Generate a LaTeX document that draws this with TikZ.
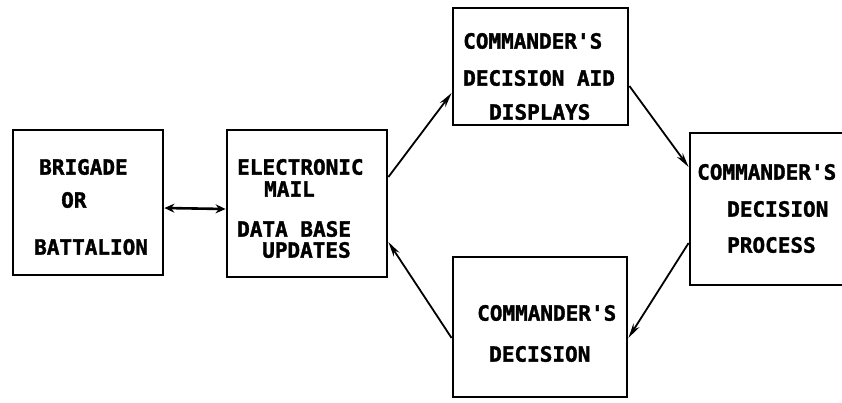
\documentclass[tikz,border=0pt]{standalone}
\usepackage{fontspec}
\newfontfamily\boxfont[FakeBold=1.6]{DejaVu Sans Mono Bold}
\usetikzlibrary{positioning,arrows.meta}

\begin{document}
\begin{tikzpicture}[
    x=1pt, y=-1pt,
    box/.style={draw, rectangle, line width=2.8pt, inner sep=0pt},
    label/.style={anchor=west, inner sep=0pt, font=\fontsize{21}{21}\selectfont\boxfont},
    arrow/.style={-{Stealth[length=15pt,width=7pt]}, line width=1.8pt},
    dblarrow/.style={{Stealth[length=10pt,width=9pt]}-{Stealth[length=10pt,width=9pt]}, line width=2.6pt}
]
\clip (0,0) rectangle (842,402);

% Boxes
\node[box, minimum width=150pt, minimum height=145pt] (brig) at (88,202.5) {};
\node[box, minimum width=160pt, minimum height=147pt] (mail) at (307,203.5) {};
\node[box, minimum width=175pt, minimum height=117pt] (aid) at (540.5,66.5) {};
\node[box, minimum width=160pt, minimum height=152pt] (proc) at (770,209) {};
\node[box, minimum width=174pt, minimum height=140pt] (dec) at (540,327) {};

% Texts
\node[label] (brig1) at (39,167) {BRIGADE};
\node[label] (brig2) at (61,200) {OR};
\node[label] (brig3) at (34,247) {BATTALION};

\node[label] (mail1) at (237,167) {ELECTRONIC};
\node[label] (mail2) at (264,189) {MAIL};
\node[label] (mail3) at (237,229) {DATA BASE};
\node[label] (mail4) at (262,250) {UPDATES};

\node[label] (aid1) at (463,41) {COMMANDER'S};
\node[label] (aid2) at (463,78) {DECISION AID};
\node[label] (aid3) at (489,112) {DISPLAYS};

\node[label] (proc1) at (697,172) {COMMANDER'S};
\node[label] (proc2) at (727,209) {DECISION};
\node[label] (proc3) at (727,245) {PROCESS};

\node[label] (dec1) at (477,313) {COMMANDER'S};
\node[label] (dec2) at (489,354) {DECISION};

% Connections
\draw[dblarrow] ([yshift=-5.5pt]brig.east) -- ([yshift=-5.5pt]mail.west);
\draw[arrow] ([yshift=26.5pt]mail.east) -- ([yshift=-26.5pt]aid.west);
\draw[arrow] ([yshift=-19.5pt]aid.east) -- ([yshift=42pt]proc.west);
\draw[arrow] ([yshift=-34pt]proc.west) -- ([yshift=-11pt]dec.east);
\draw[arrow] ([yshift=-11pt]dec.west) -- ([yshift=-38.5pt]mail.east);

\end{tikzpicture}
\end{document}
